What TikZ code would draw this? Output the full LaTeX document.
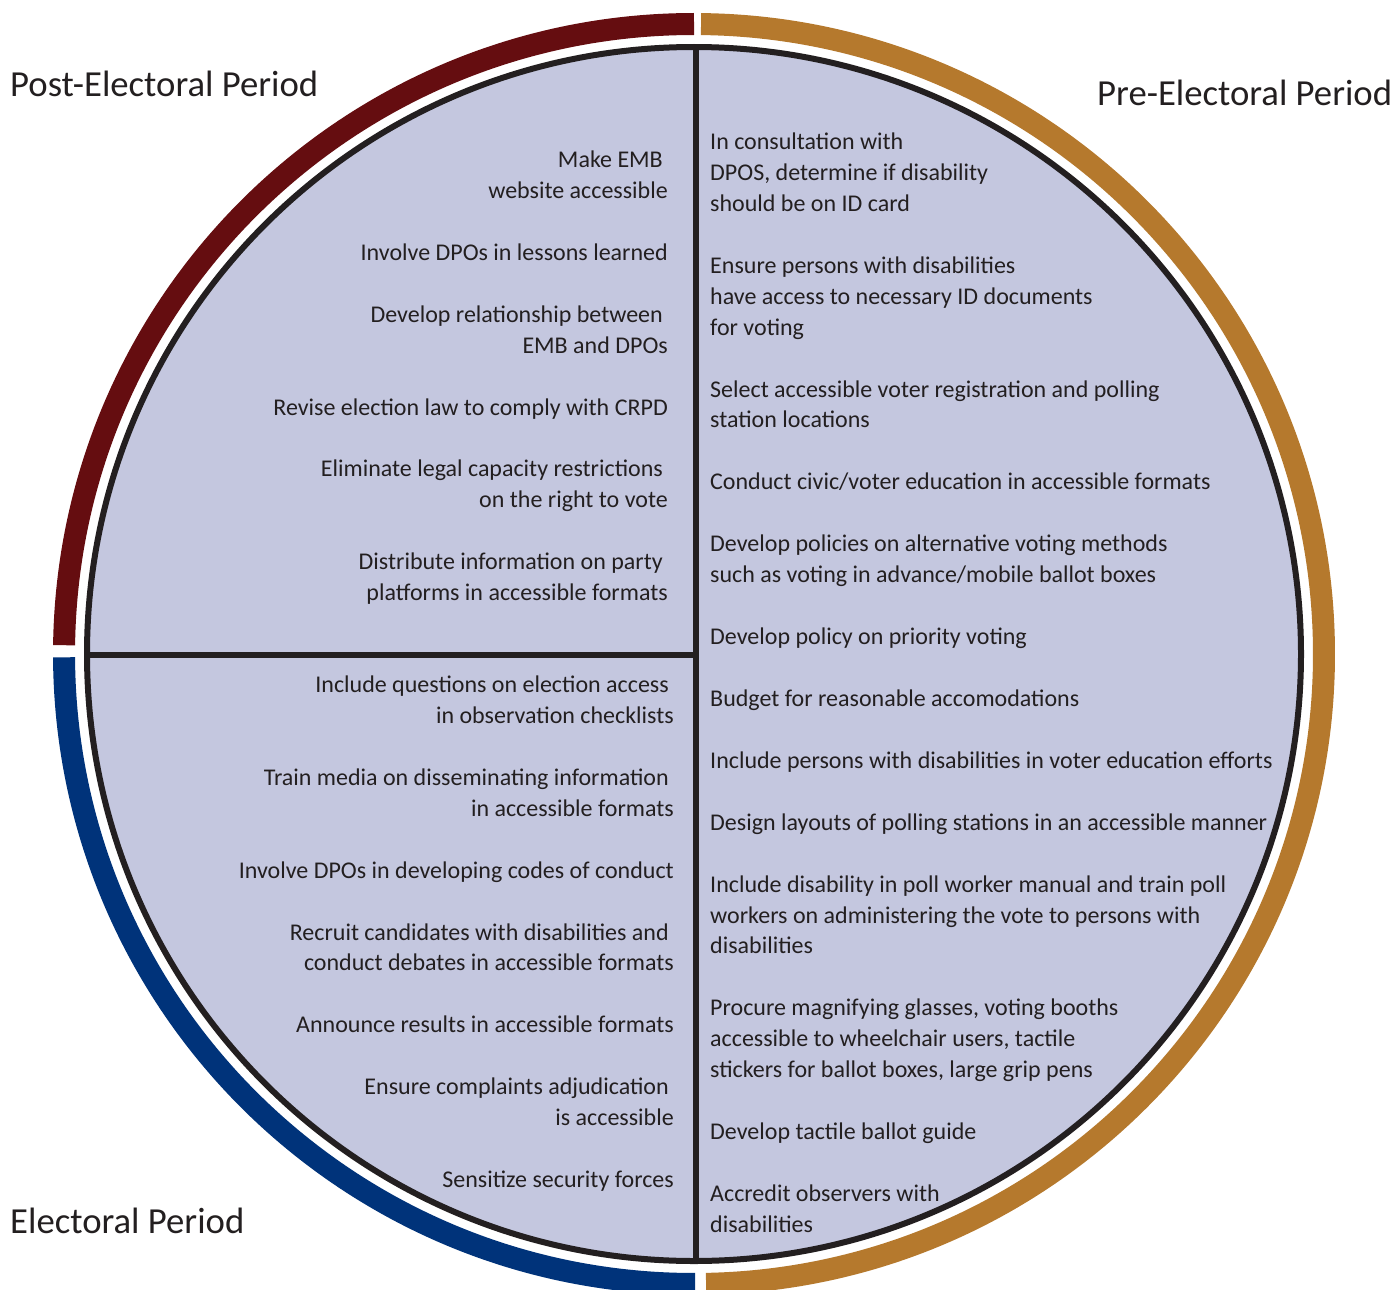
\documentclass[tikz,border=0pt]{standalone}
\usepackage{fontspec}
\setmainfont{Carlito}
\definecolor{ink}{HTML}{231F20}
\definecolor{postred}{HTML}{650D10}
\definecolor{elecblue}{HTML}{00337A}
\definecolor{preorange}{HTML}{B5792D}
\definecolor{lav}{HTML}{C4C7DF}
\begin{document}
\begin{tikzpicture}[x=1pt,y=-1pt,
  ring/.style={line width=22pt},
  divider/.style={line width=6pt, draw=ink},
  txt/.style={inner sep=0pt, text=ink, font=\fontsize{24}{29}\selectfont},
  ltxt/.style={txt, anchor=base west},
  rtxt/.style={txt, anchor=base east},
  title/.style={inner sep=0pt, text=ink, anchor=base west, font=\fontsize{36.7}{44}\selectfont}]
\useasboundingbox (0,0) rectangle (1398,1290);
\coordinate (c) at (694,654);
% outer ring
\draw[ring, draw=postred] (c) ++(-90:630) arc[start angle=-90, end angle=-179.2, radius=630];
\draw[ring, draw=elecblue] (c) ++(-180.3:630) arc[start angle=-180.3, end angle=-270.1, radius=630];
\draw[ring, draw=preorange] (c) ++(-271.1:630) arc[start angle=-271.1, end angle=-449.36, radius=630];
% disk
\fill[lav] (c) circle[radius=607];
\begin{scope}
  \clip (c) circle[radius=607];
  \draw[divider] (696,0) -- (696,1300);
  \draw[divider] (0,655) -- (696,655);
\end{scope}
\draw[line width=6pt, draw=ink] (c) circle[radius=607];
% titles
\node[title] (tpost) at (10,96) {Post-Electoral Period};
\node[title] (tpre) at (1097,106) {Pre-Electoral Period};
\node[title] (telec) at (10,1233) {Electoral Period};
% pre-electoral column
\foreach \y/\t [count=\i] in {
  149/{In consultation with},
  180/{DPOS, determine if disability},
  211/{should be on ID card},
  273/{Ensure persons with disabilities},
  304/{have access to necessary ID documents},
  335/{for voting},
  397/{Select accessible voter registration and polling},
  427/{station locations},
  489/{Conduct civic/voter education in accessible formats},
  551/{Develop policies on alternative voting methods},
  582/{such as voting in advance/mobile ballot boxes},
  644/{Develop policy on priority voting},
  706/{Budget for reasonable accomodations},
  768/{Include persons with disabilities in voter education efforts},
  830/{Design layouts of polling stations in an accessible manner},
  892/{Include disability in poll worker manual and train poll},
  923/{workers on administering the vote to persons with},
  953/{disabilities},
  1015/{Procure magnifying glasses, voting booths},
  1046/{accessible to wheelchair users, tactile},
  1077/{stickers for ballot boxes, large grip pens},
  1139/{Develop tactile ballot guide},
  1201/{Accredit observers with},
  1232/{disabilities}}
  \node[ltxt] (pre\i) at (710,\y) {\t};
% post-electoral column
\foreach \x/\y/\t [count=\i] in {
  663/167/{Make EMB},
  668/198/{website accessible},
  668/260/{Involve DPOs in lessons learned},
  663/322/{Develop relationship between},
  668/353/{EMB and DPOs},
  668/415/{Revise election law to comply with CRPD},
  663/476/{Eliminate legal capacity restrictions},
  668/507/{on the right to vote},
  663/569/{Distribute information on party},
  668/600/{platforms in accessible formats}}
  \node[rtxt] (post\i) at (\x,\y) {\t};
% electoral column
\foreach \x/\y/\t [count=\i] in {
  669/692/{Include questions on election access},
  674/723/{in observation checklists},
  669/785/{Train media on disseminating information},
  674/816/{in accessible formats},
  674/878/{Involve DPOs in developing codes of conduct},
  669/940/{Recruit candidates with disabilities and},
  674/970/{conduct debates in accessible formats},
  674/1032/{Announce results in accessible formats},
  669/1094/{Ensure complaints adjudication},
  674/1125/{is accessible},
  674/1187/{Sensitize security forces}}
  \node[rtxt] (elec\i) at (\x,\y) {\t};
\end{tikzpicture}
\end{document}
